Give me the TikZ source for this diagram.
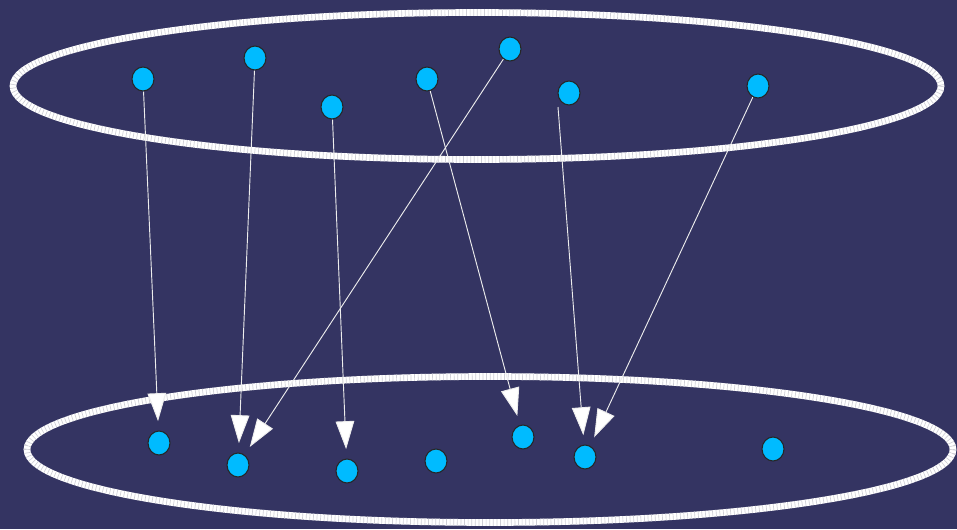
\documentclass[tikz,border=0pt]{standalone}
\usetikzlibrary{arrows.meta, positioning, shapes.geometric}
\definecolor{navy}{HTML}{343462}
\definecolor{dotcyan}{HTML}{00BBFF}
\definecolor{ringgray}{HTML}{CFCFD6}

\begin{document}
\begin{tikzpicture}[x=0.75pt, y=-0.75pt,
  dot/.style={ellipse, draw=black!85, line width=0.8pt, fill=dotcyan, inner sep=0pt, minimum width=16.5pt, minimum height=18pt},
  ring/.style={line width=5pt, white},
  ringmarks/.style={line width=5pt, ringgray, dash pattern=on 0.5pt off 2.2pt},
  link/.style={white!85!gray, line width=0.7pt, shorten >=7pt, -{Triangle[length=21pt, width=14pt, fill=white]}},
]

  \fill[navy] (0,0) rectangle (957,529);

  % the two sets
  \draw[ring] (477,86) ellipse [x radius=464, y radius=73.5];
  \draw[ringmarks] (477,86) ellipse [x radius=464, y radius=73.5];
  \draw[ring] (490,449.5) ellipse [x radius=463, y radius=73];
  \draw[ringmarks] (490,449.5) ellipse [x radius=463, y radius=73];

  % upper elements
  \node[dot] (t1) at (143,79) {};
  \node[dot] (t2) at (255,58) {};
  \node[dot] (t3) at (332,107) {};
  \node[dot] (t4) at (427,79) {};
  \node[dot] (t5) at (510,49) {};
  \node[dot] (t6) at (569,93) {};
  \node[dot] (t7) at (758,86) {};

  % lower elements
  \node[dot] (b1) at (159,443) {};
  \node[dot] (b2) at (238,465) {};
  \node[dot] (b3) at (347,471) {};
  \node[dot] (b4) at (436,461) {};
  \node[dot] (b5) at (523,437) {};
  \node[dot] (b6) at (585,457) {};
  \node[dot] (b7) at (773,449) {};

  % mapping
  \draw[link] (t1) -- (b1);
  \draw[link] (t2) -- (b2);
  \draw[link] (t3) -- (b3);
  \draw[link] (t5) -- (b2);
  \draw[link] (t4) -- (b5);
  \draw[link] ([shift={(-11,14)}]t6.center) -- (b6);
  \draw[link] (t7) -- (b6);

\end{tikzpicture}
\end{document}
